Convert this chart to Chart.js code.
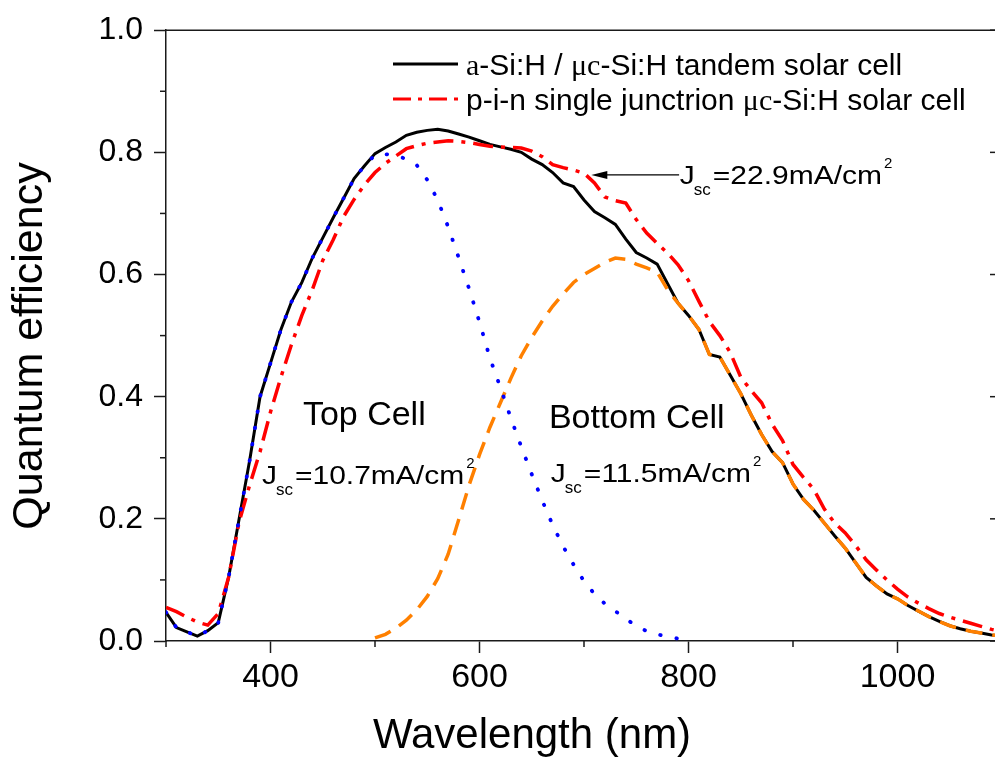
<!DOCTYPE html>
<html><head><meta charset="utf-8">
<script src="https://cdn.jsdelivr.net/npm/chart.js@4.4.0/dist/chart.umd.min.js"></script>
<style>
html,body{margin:0;padding:0;background:#fff;overflow:hidden;width:995px;height:767px}
#wrap{position:absolute;left:0;top:0;width:1010px;height:767px}
canvas{display:block}
</style></head>
<body><div id="wrap"><canvas id="c" width="1010" height="767"></canvas></div>
<script>
// ---------- data ----------
const wavelengths = [300,310,320,330,340,350,360,370,380,390,400,410,420,430,440,450,460,470,480,490,
  500,510,520,530,540,550,560,570,580,590,600,610,620,630,640,650,660,670,680,690,
  700,710,720,730,740,750,760,770,780,790,800,810,820,830,840,850,860,870,880,890,
  900,910,920,930,940,950,960,970,980,990,1000,1010,1020,1030,1040,1050,1060,1070,1080,1090,1100];

const tandemQE = [0.047,0.022,0.015,0.008,0.017,0.030,0.105,0.200,0.295,0.400,0.455,0.510,0.555,0.587,0.627,0.660,0.693,0.725,0.757,0.778,
  0.798,0.808,0.817,0.828,0.833,0.836,0.838,0.835,0.830,0.825,0.819,0.813,0.809,0.805,0.800,0.789,0.780,0.767,0.750,0.744,
  0.722,0.703,0.693,0.682,0.658,0.636,0.627,0.617,0.585,0.553,0.533,0.510,0.469,0.465,0.435,0.405,0.370,0.338,0.310,0.292,
  0.257,0.232,0.214,0.193,0.172,0.152,0.128,0.104,0.090,0.077,0.069,0.058,0.049,0.040,0.032,0.025,0.020,0.016,0.013,0.010,0.008];

const singleQE = [0.055,0.048,0.039,0.031,0.026,0.045,0.105,0.195,0.255,0.310,0.375,0.432,0.485,0.533,0.575,0.623,0.657,0.695,0.723,0.747,
  0.767,0.782,0.794,0.806,0.811,0.815,0.817,0.819,0.818,0.816,0.813,0.810,0.809,0.808,0.807,0.802,0.793,0.780,0.775,0.771,
  0.766,0.750,0.727,0.721,0.717,0.690,0.668,0.651,0.635,0.616,0.590,0.556,0.523,0.500,0.472,0.432,0.410,0.390,0.355,0.328,
  0.289,0.268,0.248,0.216,0.193,0.177,0.156,0.133,0.116,0.100,0.085,0.072,0.062,0.053,0.045,0.039,0.034,0.029,0.024,0.019,0.015];

const topCellQE = [0.047,0.022,0.015,0.008,0.017,0.030,0.105,0.200,0.295,0.400,0.455,0.510,0.555,0.587,0.627,0.660,0.693,0.725,0.757,0.778,
  0.796,0.797,0.795,0.789,0.779,0.755,0.722,0.678,0.628,0.577,0.522,0.463,0.415,0.365,0.318,0.273,0.230,0.190,0.155,0.125,
  0.098,0.077,0.061,0.049,0.036,0.025,0.016,0.011,0.007,0.004,null,null,null,null,null,null,null,null,null,null,
  null,null,null,null,null,null,null,null,null,null,null,null,null,null,null,null,null,null,null,null,null];

const bottomCellQE = [null,null,null,null,null,null,null,null,null,null,null,null,null,null,null,null,null,null,null,null,
  0.005,0.011,0.021,0.034,0.051,0.073,0.102,0.142,0.198,0.255,0.305,0.350,0.390,0.430,0.467,0.497,0.524,0.548,0.568,0.587,
  0.600,0.610,0.620,0.627,0.625,0.617,0.611,0.604,0.575,0.553,0.533,0.510,0.469,0.465,0.435,0.405,0.370,0.338,0.310,0.292,
  0.257,0.232,0.214,0.193,0.172,0.152,0.128,0.104,0.090,0.077,0.069,0.058,0.049,0.040,0.032,0.025,0.020,0.016,0.013,0.010,0.008];

const xMajorTicks = [400,600,800,1000];
const xMinorTicks = [300,500,700,900,1100];
const yMajorTicks = [0.0,0.2,0.4,0.6,0.8,1.0];
const yMinorTicks = [0.1,0.3,0.5,0.7,0.9];

const xTitle = 'Wavelength (nm)';
const yTitle = 'Quantum efficiency';
const legendRows = [
  [['a','serif'],['-Si:H / ','sans'],['\u03BCc','serif'],['-Si:H tandem solar cell','sans']],
  [['p-i-n single junctrion ','sans'],['\u03BCc','serif'],['-Si:H solar cell','sans']]
];
const cellLabels = ['Top Cell','Bottom Cell'];
const cellLabelAt = [[431,0.354],[666.4,0.349]];
const jscValues = ['10.7','11.5','22.9'];
const jscAt = [[391.8,0.257],[668.3,0.260],[791.7,0.748]];
const arrowTip = [707,0.763];
const arrowTailX = 791;

// ---------- chart ----------
const SANS = '"Liberation Sans", Arial, Helvetica, sans-serif';
const SERIF = '"Liberation Serif", "Times New Roman", serif';
const pts = arr => wavelengths.map((w,i)=>({x:w,y:arr[i]}));

function seg(ctx,x1,y1,x2,y2){ctx.beginPath();ctx.moveTo(x1,y1);ctx.lineTo(x2,y2);ctx.stroke();}

const overlay = {
  id:'overlay',
  afterDraw(chart){
    const {ctx, chartArea:a, scales:{x,y}} = chart;
    ctx.save();
    ctx.strokeStyle='#1a1a1a'; ctx.lineWidth=1.5; ctx.setLineDash([]);
    // frame
    ctx.beginPath(); ctx.moveTo(a.left,a.top); ctx.lineTo(a.right,a.top); ctx.lineTo(a.right,a.bottom); ctx.stroke();
    // minor ticks
    xMinorTicks.forEach(v=>{const p=x.getPixelForValue(v); seg(ctx,p,a.bottom,p,a.bottom+6);});
    yMinorTicks.forEach(v=>{const p=y.getPixelForValue(v); seg(ctx,a.left-6,p,a.left,p);});
    // right axis inward major ticks
    yMajorTicks.forEach(v=>{const p=y.getPixelForValue(v); seg(ctx,a.right-12,p,a.right,p);});

    ctx.fillStyle='#000';
    // axis titles
    ctx.font='42px '+SANS; ctx.textAlign='center'; ctx.textBaseline='alphabetic';
    ctx.fillText(xTitle, 532, 748);
    ctx.font='43px '+SANS;
    ctx.save(); ctx.translate(42, 346); ctx.rotate(-Math.PI/2); ctx.fillText(yTitle,0,0); ctx.restore();

    // legend
    ctx.textAlign='left';
    const lx1=393, lx2=458, tx=466;
    const rows=[{ly:64, by:75, color:'#000', dash:[]},{ly:99, by:110, color:'#ff0000', dash:[18,7,4,7]}];
    rows.forEach((r,i)=>{
      ctx.save(); ctx.strokeStyle=r.color; ctx.lineWidth=3; ctx.setLineDash(r.dash);
      seg(ctx,lx1,r.ly,lx2,r.ly); ctx.restore();
      let cx=tx;
      legendRows[i].forEach(([t,f])=>{
        ctx.font='30px '+(f==='serif'?SERIF:SANS);
        ctx.fillText(t,cx,r.by); cx+=ctx.measureText(t).width;
      });
    });

    // cell labels
    ctx.font='34px '+SANS;
    cellLabels.forEach((t,i)=>{
      ctx.fillText(t, x.getPixelForValue(cellLabelAt[i][0]), y.getPixelForValue(cellLabelAt[i][1]));
    });

    // Jsc labels
    jscValues.forEach((v,i)=>{
      const x0=x.getPixelForValue(jscAt[i][0]), yb=y.getPixelForValue(jscAt[i][1]);
      const sx=1.2;
      ctx.save(); ctx.translate(x0,yb); ctx.scale(sx,1);
      ctx.font='25px '+SANS; ctx.fillText('J',0,0); ctx.restore();
      ctx.font='17px '+SANS; ctx.fillText('sc', x0+14, yb+11);
      const main='='+v+'mA/cm';
      ctx.save(); ctx.translate(x0+33,yb); ctx.scale(sx,1);
      ctx.font='25px '+SANS; ctx.fillText(main,0,0);
      const w=ctx.measureText(main).width*sx; ctx.restore();
      ctx.font='15px '+SANS; ctx.fillText('2', x0+33+w+2, yb-16);
    });

    // arrow
    const tx0=x.getPixelForValue(arrowTip[0]), ty0=y.getPixelForValue(arrowTip[1]);
    const tx1=x.getPixelForValue(arrowTailX);
    ctx.lineWidth=1.2; ctx.strokeStyle='#000';
    seg(ctx,tx0+10,ty0,tx1,ty0);
    ctx.beginPath(); ctx.moveTo(tx0,ty0); ctx.lineTo(tx0+16,ty0-4); ctx.lineTo(tx0+16,ty0+4); ctx.closePath(); ctx.fill();
    ctx.restore();
  }
};

new Chart(document.getElementById('c'), {
  type:'line',
  data:{datasets:[
    {label:'Top cell', data:pts(topCellQE), borderColor:'#0000ff', borderWidth:3.8, borderDash:[0.5,16], borderCapStyle:'round', spanGaps:false},
    {label:'Bottom cell', data:pts(bottomCellQE), borderColor:'#ff8000', borderWidth:3.5, borderDash:[17,10], spanGaps:false},
    {label:'p-i-n single junctrion \u03BCc-Si:H solar cell', data:pts(singleQE), borderColor:'#ff0000', borderWidth:3.5, borderDash:[20,8,4,8]},
    {label:'a-Si:H / \u03BCc-Si:H tandem solar cell', data:pts(tandemQE), borderColor:'#000000', borderWidth:3}
  ]},
  options:{
    responsive:false, animation:false, devicePixelRatio:1,
    layout:{padding:{top:26,right:8,left:0,bottom:0}},
    elements:{point:{radius:0,hoverRadius:0}, line:{tension:0, fill:false}},
    plugins:{legend:{display:false}, tooltip:{enabled:false}},
    events:[],
    scales:{
      x:{type:'linear', position:'bottom', min:300, max:1100,
        afterBuildTicks:s=>{s.ticks=xMajorTicks.map(v=>({value:v}));},
        afterFit:s=>{s.height=126;},
        ticks:{font:{family:SANS,size:34}, color:'#000', padding:4, maxRotation:0, autoSkip:false, callback:v=>String(v)},
        grid:{drawOnChartArea:false, drawTicks:true, tickLength:12, tickWidth:1.5, tickColor:'#1a1a1a'},
        border:{display:true, color:'#1a1a1a', width:1.5}
      },
      y:{type:'linear', position:'left', min:0, max:1,
        afterBuildTicks:s=>{s.ticks=yMajorTicks.map(v=>({value:v}));},
        afterFit:s=>{s.width=166;},
        ticks:{font:{family:SANS,size:32}, color:'#000', padding:11, autoSkip:false, callback:v=>Number(v).toFixed(1)},
        grid:{drawOnChartArea:false, drawTicks:true, tickLength:12, tickWidth:1.5, tickColor:'#1a1a1a'},
        border:{display:true, color:'#1a1a1a', width:1.5}
      }
    }
  },
  plugins:[overlay]
});
</script>
</body></html>
